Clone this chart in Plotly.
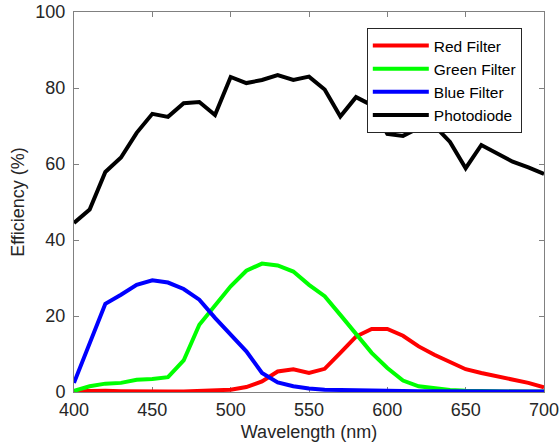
import plotly.graph_objects as go

wavelength = list(range(400, 701, 10))

red_filter = [0.2, 0.3, 0.3, 0.2, 0.1, 0.1, 0.1, 0.15, 0.3, 0.4, 0.6,
              1.3, 2.8, 5.4, 6.0, 5.0, 6.1, 10.3, 14.6, 16.6, 16.6,
              14.8, 12.0, 9.8, 7.8, 6.0, 5.0, 4.1, 3.2, 2.4, 1.2]

green_filter = [0.3, 1.5, 2.2, 2.4, 3.2, 3.4, 3.9, 8.3, 17.7, 22.7, 27.8,
                31.9, 33.8, 33.3, 31.7, 28.2, 25.2, 20.3, 15.1, 10.3, 6.3,
                3.0, 1.5, 0.9, 0.5, 0.3, 0.2, 0.2, 0.15, 0.1, 0.1]

blue_filter = [2.4, 12.7, 23.2, 25.6, 28.2, 29.4, 28.8, 27.1, 24.3, 19.5, 15.1,
               10.7, 5.0, 2.5, 1.5, 0.9, 0.6, 0.5, 0.4, 0.3, 0.25,
               0.2, 0.2, 0.2, 0.15, 0.15, 0.1, 0.1, 0.1, 0.1, 0.1]

photodiode = [44.5, 48.0, 57.9, 61.7, 68.2, 73.2, 72.4, 76.0, 76.3, 72.9, 82.9,
              81.3, 82.1, 83.4, 82.1, 83.0, 79.6, 72.5, 77.6, 75.5, 67.9,
              67.4, 69.5, 70.1, 65.8, 58.9, 65.0, 62.7, 60.6, 59.1, 57.4]

series = [
    ("Red Filter", red_filter, "#FF0000"),
    ("Green Filter", green_filter, "#00FF00"),
    ("Blue Filter", blue_filter, "#0000FF"),
    ("Photodiode", photodiode, "#000000"),
]

x_ticks = [400, 450, 500, 550, 600, 650, 700]
y_ticks = [0, 20, 40, 60, 80, 100]

FONT = "Liberation Sans, Arial, Helvetica, sans-serif"
TXT = "#262626"
AX = "#808080"

fig = go.Figure()
for name, vals, col in series:
    fig.add_trace(go.Scatter(x=wavelength, y=vals, mode="lines", name=name,
                             line=dict(color=col, width=4)))

axis_common = dict(showgrid=False, zeroline=False, showline=True, linecolor=AX,
                   linewidth=1, mirror="ticks", ticks="inside", ticklen=5,
                   tickcolor=AX, tickwidth=1, layer="below traces", automargin=False,
                   ticklabeloverflow="allow",
                   tickfont=dict(family=FONT, size=18, color=TXT))

fig.update_layout(
    width=559, height=446,
    margin=dict(l=74, r=15, t=12, b=54, pad=0),
    paper_bgcolor="white", plot_bgcolor="white",
    font=dict(family=FONT, color=TXT),
    xaxis=dict(range=[400, 700], tickvals=x_ticks, ticklabelstandoff=1,
               title=dict(text="Wavelength (nm)", font=dict(family=FONT, size=18, color=TXT), standoff=6),
               **axis_common),
    yaxis=dict(range=[0, 100], tickvals=y_ticks, ticklabelstandoff=4,
               title=dict(text="Efficiency (%)", font=dict(family=FONT, size=18, color=TXT), standoff=6),
               **axis_common),
    legend=dict(x=0.623, y=0.958, xanchor="left", yanchor="top",
                bgcolor="white", bordercolor=TXT, borderwidth=1,
                font=dict(family=FONT, size=15.5, color="#000000"),
                itemwidth=56, tracegroupgap=0),
    showlegend=True,
)

fig.write_html("out.html", config={"displayModeBar": False},
               post_script="document.body.style.margin='0';")
